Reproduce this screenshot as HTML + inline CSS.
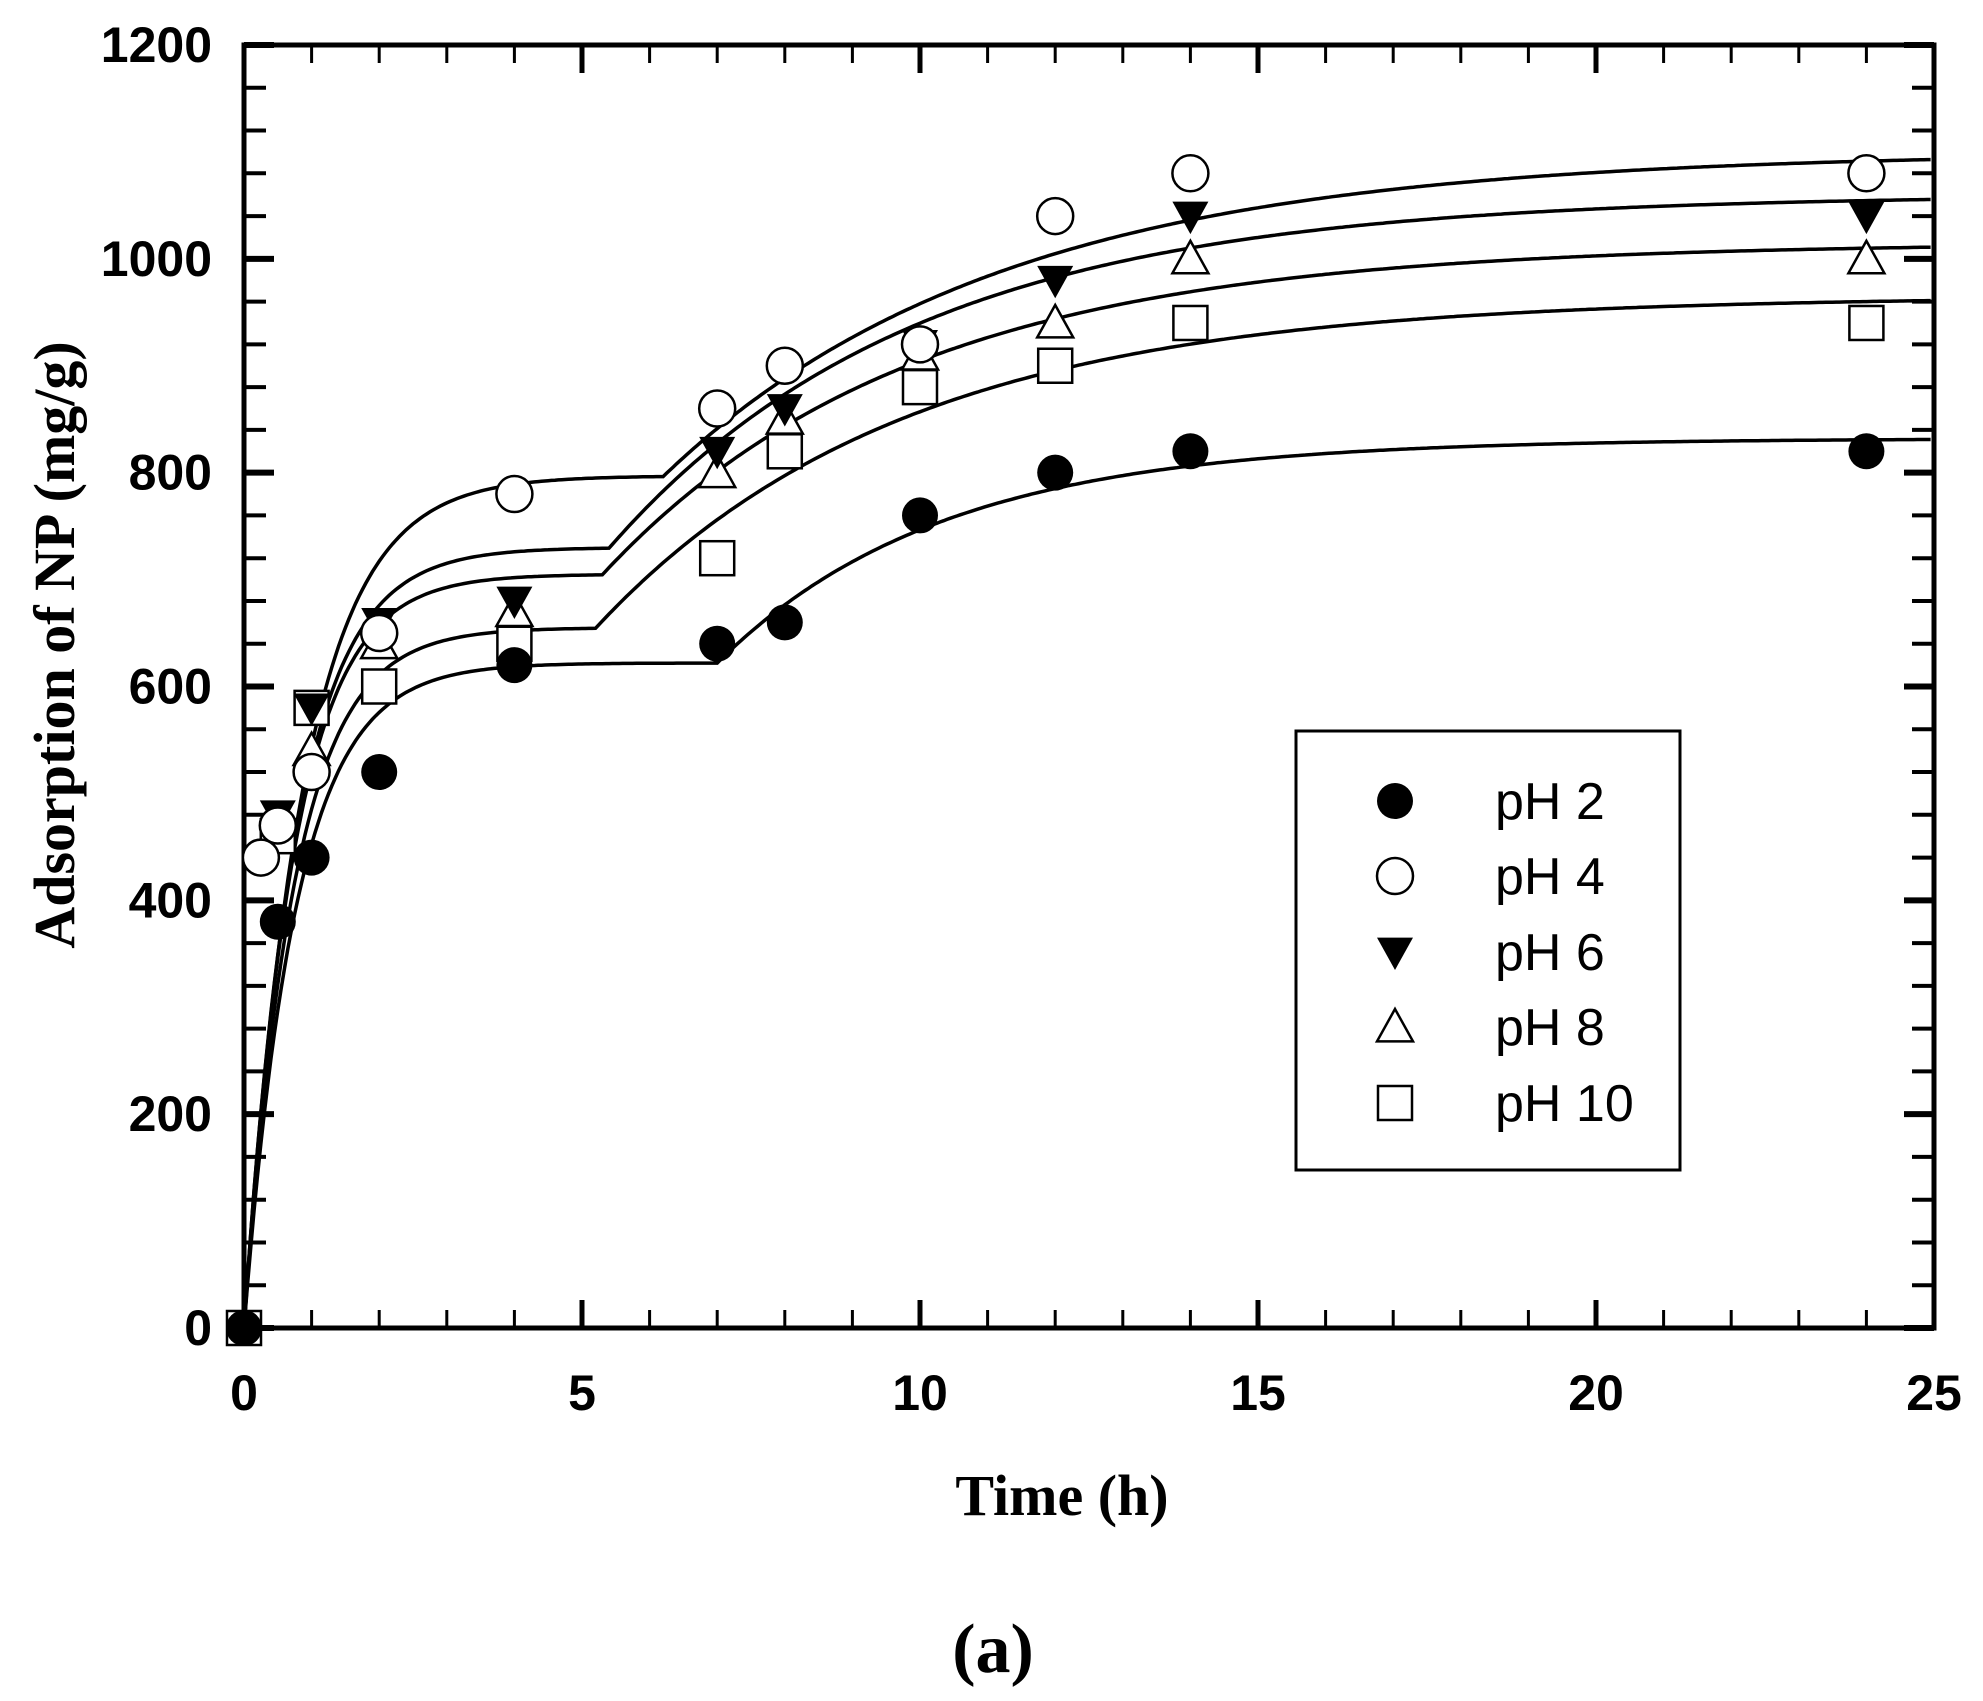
<!DOCTYPE html>
<html><head><meta charset="utf-8"><style>
html,body{margin:0;padding:0;background:#fff;}
svg{display:block;}
</style></head><body>
<svg id="s" width="1983" height="1701" xmlns="http://www.w3.org/2000/svg"></svg>
<script>
const S=document.getElementById('s');
const L=244,R=1934,T=45,B=1328;
const X=t=>L+(R-L)*t/25, Y=v=>B-(B-T)*v/1200;
let h='';
h+=`<rect x="${L}" y="${T}" width="${R-L}" height="${B-T}" fill="none" stroke="#000" stroke-width="5"/>`;
for(let i=0;i<=25;i++){const x=X(i),len=i%5==0?28:18,w=i%5==0?5:3;
 h+=`<line x1="${x}" y1="${B}" x2="${x}" y2="${B-len}" stroke="#000" stroke-width="${w}"/>`;
 h+=`<line x1="${x}" y1="${T}" x2="${x}" y2="${T+len}" stroke="#000" stroke-width="${w}"/>`;}
for(let v=0;v<=1200;v+=40){const y=Y(v),maj=v%200==0,len=maj?30:22,w=maj?6:4;
 h+=`<line x1="${L}" y1="${y}" x2="${L+len}" y2="${y}" stroke="#000" stroke-width="${w}"/>`;
 h+=`<line x1="${R}" y1="${y}" x2="${R-len}" y2="${y}" stroke="#000" stroke-width="${w}"/>`;}
for(let v=0;v<=1200;v+=200)h+=`<text x="212" y="${Y(v)+17}" text-anchor="end" font-family="Liberation Sans,sans-serif" font-weight="bold" font-size="50">${v}</text>`;
for(let t=0;t<=25;t+=5)h+=`<text x="${X(t)}" y="1410" text-anchor="middle" font-family="Liberation Sans,sans-serif" font-weight="bold" font-size="50">${t}</text>`;
h+=`<text x="1062" y="1515" text-anchor="middle" font-family="Liberation Serif,serif" font-weight="bold" font-size="58">Time (h)</text>`;
h+=`<text x="993" y="1672" text-anchor="middle" font-family="Liberation Serif,serif" font-weight="bold" font-size="70">(a)</text>`;
h+=`<text transform="translate(74,645) rotate(-90)" text-anchor="middle" font-family="Liberation Serif,serif" font-weight="bold" font-size="58">Adsorption of NP (mg/g)</text>`;
const C=[[622,1.3,7,832,0.3],[797,1.15,6.2,1100,0.2],[730,1.3,5.4,1060,0.22],[705,1.35,5.3,1015,0.22],[655,1.35,5.2,965,0.22]];
C.forEach(([P,k,t0,A,k2])=>{let d='';for(let t=0;t<=25;t+=0.05){let p0=P*(1-Math.exp(-k*t0));let v=t<t0?P*(1-Math.exp(-k*t)):p0+(A-p0)*(1-Math.exp(-k2*(t-t0)));d+=(d?'L':'M')+X(t).toFixed(1)+','+Y(v).toFixed(1);}
 h+=`<path d="${d}" fill="none" stroke="#000" stroke-width="3.5"/>`;});
const r=18;
function mk(type,x,y){
 if(type==0)return `<circle cx="${x}" cy="${y}" r="${r}" fill="#000"/>`;
 if(type==1)return `<circle cx="${x}" cy="${y}" r="${r}" fill="#fff" stroke="#000" stroke-width="2.5"/>`;
 if(type==2)return `<polygon points="${x-r},${y-r*0.8} ${x+r},${y-r*0.8} ${x},${y+r}" fill="#000"/>`;
 if(type==3)return `<polygon points="${x-r},${y+r*0.8} ${x+r},${y+r*0.8} ${x},${y-r}" fill="#fff" stroke="#000" stroke-width="2.5"/>`;
 return `<rect x="${x-r+1}" y="${y-r+1}" width="${2*r-2}" height="${2*r-2}" fill="#fff" stroke="#000" stroke-width="2.5"/>`;}
const D=[
[[0,0],[0.5,380],[1,440],[2,520],[4,620],[7,640],[8,660],[10,760],[12,800],[14,820],[24,820]],
[[0.25,440],[0.5,470],[1,520],[2,650],[4,780],[7,860],[8,900],[10,920],[12,1040],[14,1080],[24,1080]],
[[0.5,480],[1,580],[2,660],[4,680],[7,820],[8,860],[10,920],[12,980],[14,1040],[24,1040]],
[[1,540],[2,640],[4,670],[7,800],[8,850],[10,910],[12,940],[14,1000],[24,1000]],
[[0,0],[0.5,460],[1,580],[2,600],[4,640],[7,720],[8,820],[10,880],[12,900],[14,940],[24,940]]];
[4,3,2,1,0].forEach(i=>D[i].forEach(([t,v])=>h+=mk(i,X(t),Y(v))));
h+=`<rect x="1296" y="731" width="384" height="439" fill="#fff" stroke="#000" stroke-width="3"/>`;
const names=['pH 2','pH 4','pH 6','pH 8','pH 10'],ys=[801,876,952,1027,1103];
names.forEach((n,i)=>{h+=mk(i,1395,ys[i]);h+=`<text x="1495" y="${ys[i]+18}" font-family="Liberation Sans,sans-serif" font-size="52">${n}</text>`;});
S.innerHTML=h;
</script>
</body></html>
